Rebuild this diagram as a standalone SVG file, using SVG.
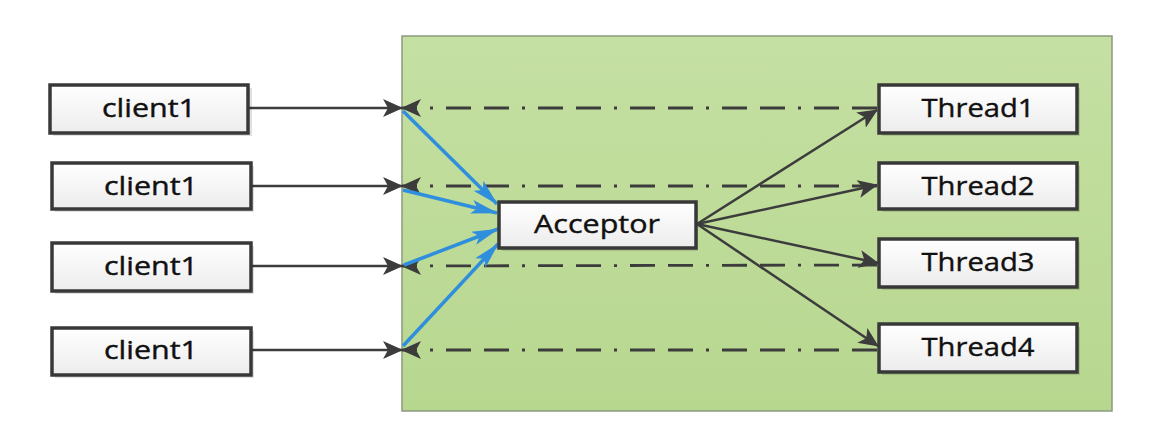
<svg xmlns="http://www.w3.org/2000/svg" width="1167" height="438" viewBox="0 0 1167 438">
<defs>
<linearGradient id="bg" x1="0" y1="0" x2="0" y2="1">
<stop offset="0" stop-color="#c5e0a3"/>
<stop offset="1" stop-color="#b7d78f"/>
</linearGradient>
<linearGradient id="box" x1="0" y1="0" x2="0" y2="1">
<stop offset="0" stop-color="#ffffff"/>
<stop offset="1" stop-color="#ececec"/>
</linearGradient>
<marker id="ah" markerUnits="userSpaceOnUse" markerWidth="22" markerHeight="18" refX="19" refY="9" orient="auto">
<path d="M0,0 L20,9 L0,18 L5,9 Z" fill="#3c3c3c"/>
</marker>
<marker id="bh" markerUnits="userSpaceOnUse" markerWidth="28" markerHeight="14" refX="26" refY="7" orient="auto">
<path d="M0,0 L27,7 L0,14 L6,7 Z" fill="#2f8fdc"/>
</marker>
<style>
.node rect.b{fill:url(#box);stroke:#383838;stroke-width:3.5}
.node rect.s{fill:#000;opacity:0.12}
.node text{font-family:"Open Sans","Liberation Sans",sans-serif;font-size:25px;fill:#111;text-anchor:middle;stroke:#111;stroke-width:0.4}
.solid{stroke:#3c3c3c;stroke-width:2.5;fill:none;marker-end:url(#ah)}
.dash{stroke:#3c3c3c;stroke-width:2.8;fill:none;stroke-dasharray:25 13 25 13 3 13;marker-end:url(#ah)}
.blue{stroke:#2f8fdc;stroke-width:3.5;fill:none;marker-end:url(#bh)}
</style>
</defs>
<rect width="1167" height="438" fill="#ffffff"/>
<g id="container">
<rect x="402" y="36" width="710" height="375" fill="url(#bg)" stroke="#8a9a7e" stroke-width="1.5"/>
</g>
<g id="connectors">
<line class="solid" x1="248" y1="108" x2="402" y2="108"/>
<line class="solid" x1="251" y1="186" x2="402" y2="186"/>
<line class="solid" x1="251" y1="266" x2="402" y2="266"/>
<line class="solid" x1="251" y1="350" x2="402" y2="350"/>
<line class="dash" x1="877" y1="108" x2="402" y2="108"/>
<line class="dash" x1="877" y1="186" x2="402" y2="186"/>
<line class="dash" x1="877" y1="265" x2="402" y2="266"/>
<line class="dash" x1="877" y1="350" x2="402" y2="350"/>
<line class="blue" x1="403" y1="111" x2="497" y2="204"/>
<line class="blue" x1="403" y1="190" x2="497" y2="213"/>
<line class="blue" x1="404" y1="265" x2="498" y2="229"/>
<line class="blue" x1="403" y1="346" x2="498" y2="244"/>
<line class="solid" x1="697" y1="224" x2="877" y2="110"/>
<line class="solid" x1="697" y1="224" x2="877" y2="185"/>
<line class="solid" x1="697" y1="224" x2="878" y2="263"/>
<line class="solid" x1="697" y1="224" x2="878" y2="346"/>
</g>
<g id="client1a" class="node"><rect class="s" x="53" y="88" width="199" height="48"/><rect class="b" x="50" y="85" width="198" height="48"/><text x="149" y="117" textLength="94" lengthAdjust="spacingAndGlyphs">client1</text></g>
<g id="client1b" class="node"><rect class="s" x="55" y="166" width="199" height="46"/><rect class="b" x="52" y="163" width="199" height="46"/><text x="151" y="195" textLength="94" lengthAdjust="spacingAndGlyphs">client1</text></g>
<g id="client1c" class="node"><rect class="s" x="55" y="246" width="199" height="48"/><rect class="b" x="52" y="243" width="199" height="48"/><text x="151" y="275" textLength="94" lengthAdjust="spacingAndGlyphs">client1</text></g>
<g id="client1d" class="node"><rect class="s" x="55" y="331" width="199" height="47"/><rect class="b" x="52" y="328" width="199" height="47"/><text x="151" y="359" textLength="94" lengthAdjust="spacingAndGlyphs">client1</text></g>
<g id="acceptor" class="node"><rect class="s" x="502" y="205" width="196" height="46"/><rect class="b" x="499" y="202" width="197" height="46"/><text x="597" y="233" textLength="126" lengthAdjust="spacingAndGlyphs">Acceptor</text></g>
<g id="thread1" class="node"><rect class="s" x="882" y="88" width="198" height="48"/><rect class="b" x="879" y="85" width="198" height="48"/><text x="978" y="117" textLength="113" lengthAdjust="spacingAndGlyphs">Thread1</text></g>
<g id="thread2" class="node"><rect class="s" x="882" y="166" width="198" height="46"/><rect class="b" x="879" y="163" width="198" height="46"/><text x="978" y="195" textLength="113" lengthAdjust="spacingAndGlyphs">Thread2</text></g>
<g id="thread3" class="node"><rect class="s" x="882" y="242" width="198" height="48"/><rect class="b" x="879" y="239" width="198" height="48"/><text x="978" y="271" textLength="113" lengthAdjust="spacingAndGlyphs">Thread3</text></g>
<g id="thread4" class="node"><rect class="s" x="882" y="327" width="198" height="48"/><rect class="b" x="879" y="324" width="198" height="48"/><text x="978" y="356" textLength="113" lengthAdjust="spacingAndGlyphs">Thread4</text></g>
</svg>
